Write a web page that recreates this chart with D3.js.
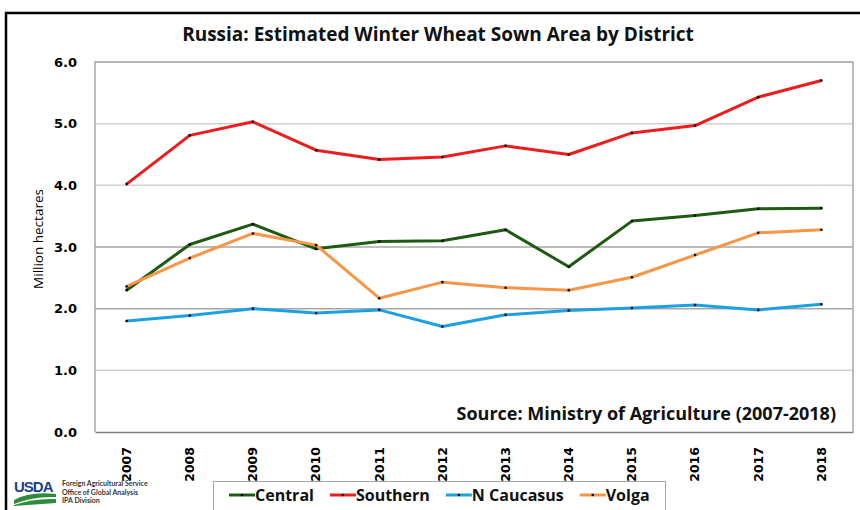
<!DOCTYPE html>
<html>
<head>
<meta charset="utf-8">
<script src="https://cdn.jsdelivr.net/npm/d3@7"></script>
<style>
  body { margin: 0; background: #fff; }
  text { font-family: "Open Sans", Lato, sans-serif; }
  .tick-y, .tick-x { font-family: "DejaVu Sans", Verdana, sans-serif; font-weight: bold; }
</style>
</head>
<body>
<svg id="canvas"></svg>
<script>
// values (million hectares)
const years = ['2007', '2008', '2009', '2010', '2011', '2012', '2013', '2014', '2015', '2016', '2017', '2018'];
const central = [2.30, 3.04, 3.37, 2.97, 3.09, 3.10, 3.28, 2.68, 3.42, 3.51, 3.62, 3.63];
const southern = [4.02, 4.81, 5.03, 4.57, 4.42, 4.46, 4.64, 4.50, 4.85, 4.97, 5.43, 5.70];
const nCaucasus = [1.80, 1.89, 2.00, 1.93, 1.98, 1.71, 1.90, 1.97, 2.01, 2.06, 1.98, 2.07];
const volga = [2.36, 2.82, 3.22, 3.03, 2.17, 2.43, 2.34, 2.30, 2.51, 2.87, 3.23, 3.28];
const seriesNames = ['Central', 'Southern', 'N Caucasus', 'Volga'];
const yTicks = [0, 1, 2, 3, 4, 5, 6];

const title = 'Russia: Estimated Winter Wheat Sown Area by District';
const source = 'Source: Ministry of Agriculture (2007-2018)';
const yLabel = 'Million hectares';

const width = 860;
const height = 510;
const plot = { left: 95, right: 853, top: 62, bottom: 432 };

const colors = ['#1f5a12', '#ee1c1c', '#1ba1e2', '#f79646'];
const series = [central, southern, nCaucasus, volga];

const canvas = d3.select('#canvas')
    .attr('width', width)
    .attr('height', height);

// outer chart border (black, left + top)
canvas.append('path')
    .attr('d', 'M6,' + height + ' V13 H' + width)
    .attr('fill', 'none')
    .attr('stroke', '#000')
    .attr('stroke-width', 2.5);

const xScale = d3.scaleBand()
    .domain(years)
    .range([plot.left, plot.right]);

const yScale = d3.scaleLinear()
    .domain([0, 6])
    .range([plot.bottom, plot.top]);

const xPos = d => xScale(d) + xScale.bandwidth() / 2;

// gridlines
canvas.append('g')
    .selectAll('line')
    .data(yTicks.filter(t => t > 0))
    .enter()
    .append('line')
    .attr('x1', plot.left)
    .attr('x2', plot.right)
    .attr('y1', d => yScale(d))
    .attr('y2', d => yScale(d))
    .attr('stroke', d => (d === 2 || d === 3) ? '#a6a6a6' : '#d0d0d0')
    .attr('stroke-width', 1.5);

// frame
canvas.append('path')
    .attr('d', 'M' + plot.left + ',' + plot.bottom + ' V' + plot.top + ' H' + plot.right + ' V' + plot.bottom)
    .attr('fill', 'none')
    .attr('stroke', '#a6a6a6')
    .attr('stroke-width', 1.5);

// x axis
const xAxis = d3.axisBottom(xScale).tickSize(0).tickSizeOuter(0);
const gx = canvas.append('g')
    .attr('transform', 'translate(0,' + plot.bottom + ')')
    .call(xAxis);
gx.select('.domain').attr('stroke', '#7f7f7f').attr('stroke-width', 1.5);
gx.selectAll('text')
    .attr('class', 'tick-x')
    .attr('transform', 'rotate(-90)')
    .attr('x', -15)
    .attr('y', 0)
    .attr('dy', '0.35em')
    .attr('text-anchor', 'end')
    .attr('fill', '#000')
    .style('font-size', '12.5px');

// y axis
const yAxis = d3.axisLeft(yScale).tickValues(yTicks).tickFormat(d3.format('.1f')).tickSize(0);
const gy = canvas.append('g')
    .attr('transform', 'translate(' + plot.left + ',0)')
    .call(yAxis);
gy.select('.domain').remove();
gy.selectAll('text')
    .attr('class', 'tick-y')
    .attr('x', -18)
    .attr('fill', '#000')
    .style('font-size', '13px');

// y label
canvas.append('text')
    .attr('transform', 'translate(43,239) rotate(-90)')
    .attr('text-anchor', 'middle')
    .style('font-size', '13.5px')
    .text(yLabel);

// title
canvas.append('text')
    .attr('x', 438)
    .attr('y', 41)
    .attr('text-anchor', 'middle')
    .style('font-size', '19px')
    .style('font-weight', 'bold')
    .attr('fill', '#111')
    .text(title);

// source note
canvas.append('text')
    .attr('x', 836)
    .attr('y', 420)
    .attr('text-anchor', 'end')
    .style('font-size', '18px')
    .style('font-weight', 'bold')
    .attr('fill', '#111')
    .text(source);

// lines
const line = d3.line()
    .x((d, i) => xPos(years[i]))
    .y(d => yScale(d));

series.forEach((values, s) => {
    canvas.append('path')
        .datum(values)
        .attr('d', line)
        .attr('fill', 'none')
        .attr('stroke', colors[s])
        .attr('stroke-width', 3)
        .attr('stroke-linejoin', 'round');

    canvas.append('g')
        .selectAll('circle')
        .data(values)
        .enter()
        .append('circle')
        .attr('cx', (d, i) => xPos(years[i]))
        .attr('cy', d => yScale(d))
        .attr('r', 1.3)
        .attr('fill', '#000');
});

// legend
const legend = canvas.append('g');
legend.append('rect')
    .attr('x', 213.5)
    .attr('y', 481.5)
    .attr('width', 452)
    .attr('height', 30)
    .attr('fill', '#fff')
    .attr('stroke', '#a6a6a6');

let lx = 229;
seriesNames.forEach((name, i) => {
    const g = legend.append('g').attr('transform', 'translate(' + lx + ',495)');
    g.append('line')
        .attr('x1', 0).attr('x2', 26)
        .attr('stroke', colors[i])
        .attr('stroke-width', 3);
    g.append('circle')
        .attr('cx', 13)
        .attr('r', 1.3)
        .attr('fill', '#000');
    const t = g.append('text')
        .attr('x', 26)
        .attr('dy', '0.35em')
        .style('font-size', '16px')
        .style('font-weight', 'bold')
        .attr('fill', '#111')
        .text(name);
    lx += 26 + t.node().getComputedTextLength() + 16;
});

// USDA logo
const logo = canvas.append('g');
logo.append('text')
    .attr('x', 14)
    .attr('y', 492)
    .style('font-family', '"Liberation Sans", Arial, sans-serif')
    .style('font-weight', 'bold')
    .style('font-size', '15px')
    .style('letter-spacing', '-1px')
    .attr('fill', '#1a3f8f')
    .text('USDA');
logo.append('path')
    .attr('d', 'M14,500 Q30,491 56,494 L56,497 Q34,496 14,504 Z')
    .attr('fill', '#2e8b3a');
logo.append('path')
    .attr('d', 'M14,505 Q34,498 56,499 L56,503 L14,506 Z')
    .attr('fill', '#2e8b3a');

['Foreign Agricultural Service', 'Office of Global Analysis', 'IPA Division'].forEach((t, i) => {
    logo.append('text')
        .attr('x', 62)
        .attr('y', 486 + i * 8.5)
        .style('font-family', 'Lato, sans-serif')
        .style('font-size', '7px')
        .style('font-weight', 'bold')
        .attr('fill', '#333')
        .text(t);
});
</script>
</body>
</html>
